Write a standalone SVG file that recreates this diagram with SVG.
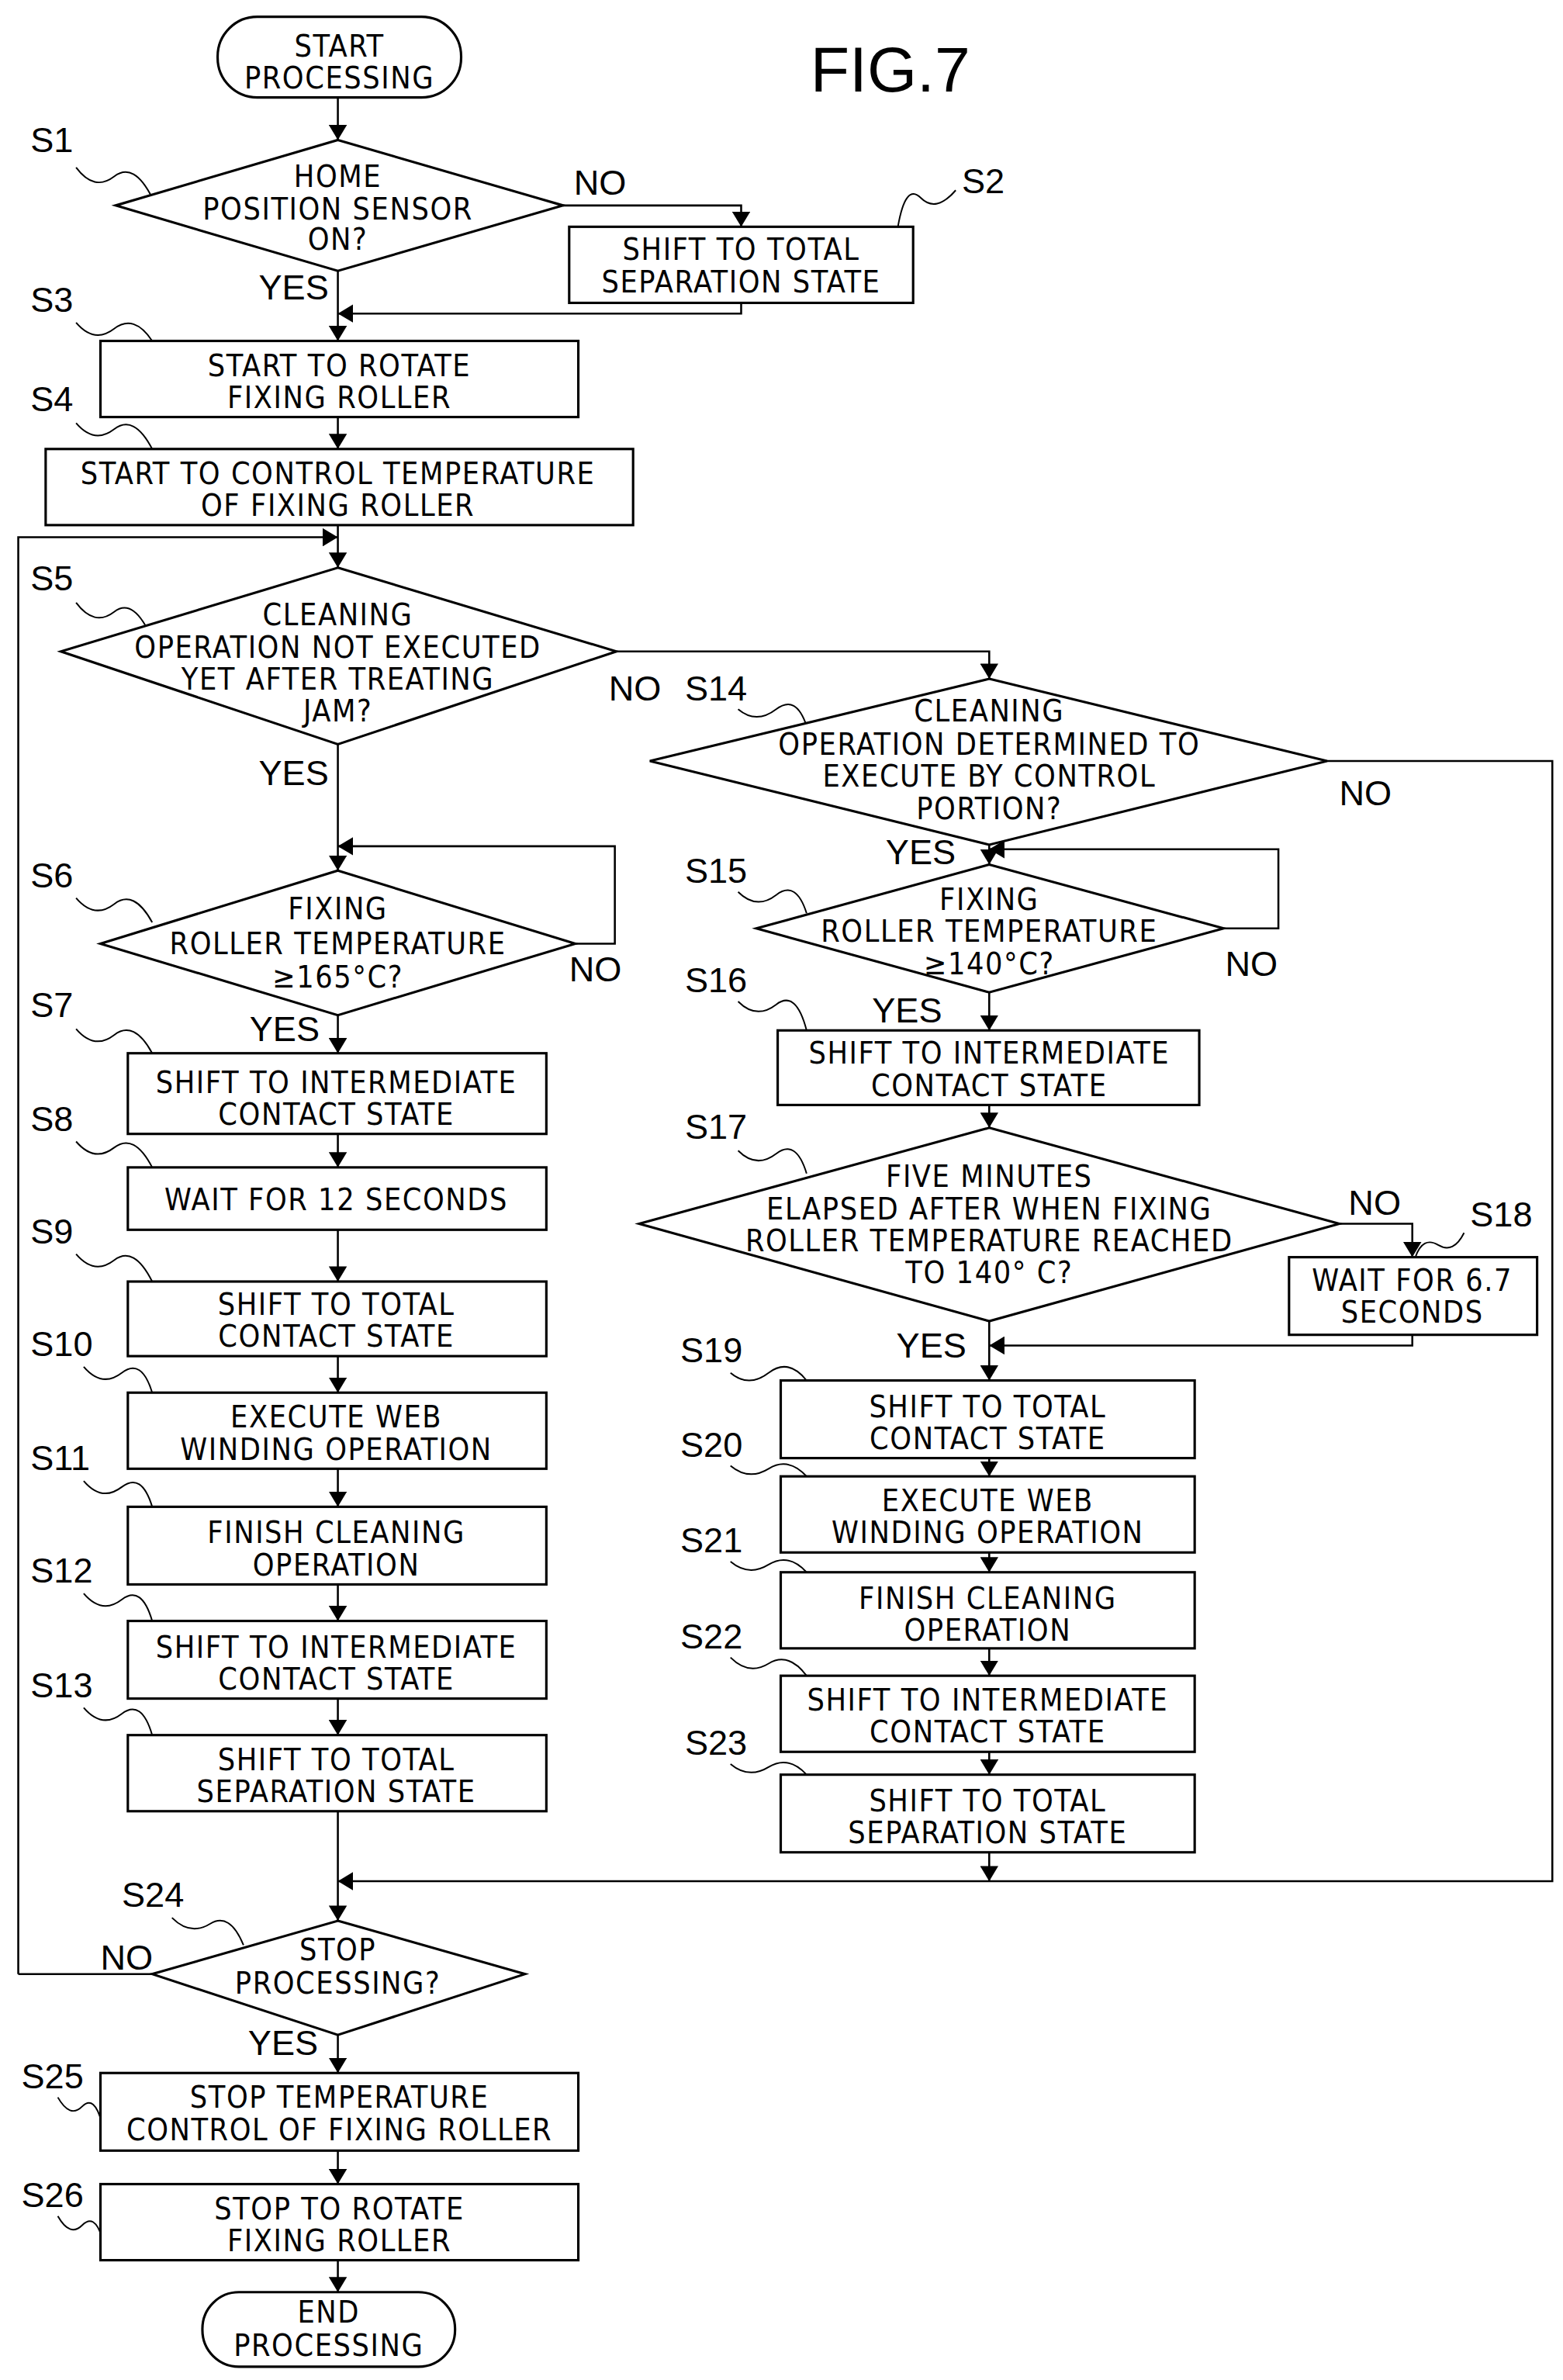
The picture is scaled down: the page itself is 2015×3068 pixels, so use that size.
<svg xmlns="http://www.w3.org/2000/svg" width="2015" height="3068" viewBox="0 0 2015 3068">
<defs>
<marker id="ah" markerWidth="10" markerHeight="12" refX="10" refY="6" orient="auto" markerUnits="userSpaceOnUse"><path d="M0,0 L10,6 L0,12 Z" fill="#000"/></marker>
<style>
.s{fill:#fff;stroke:#000;stroke-width:1.6}
.c{fill:none;stroke:#000;stroke-width:1.3;marker-end:url(#ah)}
.l{fill:none;stroke:#000;stroke-width:1.3}
.q{fill:none;stroke:#000;stroke-width:1}
text{font-family:"DejaVu Sans Condensed","Liberation Sans Narrow","Liberation Sans",sans-serif;font-size:20px;fill:#000}
.t{text-anchor:middle;letter-spacing:0.8px}
.k{font-family:"Liberation Sans",sans-serif;font-size:23px}
.f{font-family:"Liberation Sans",sans-serif;font-size:42px;text-anchor:middle}
</style>
</defs>
<rect width="2015" height="3068" fill="#fff"/>
<g transform="scale(1.962)">
<text class="f" x="585" y="60">FIG.7</text>
<g id="connectors">
<path class="c" d="M222,64 V92"/>
<path class="c" d="M370,135 H487 V149"/>
<path class="c" d="M487,199 V206 H222"/>
<path class="c" d="M222,178 V224"/>
<path class="c" d="M222,274 V295"/>
<path class="c" d="M222,345 V373"/>
<path class="c" d="M12,1297 V353 H222"/>
<path class="c" d="M405,428 H650 V446"/>
<path class="c" d="M650,555 V568"/>
<path class="c" d="M872,500 H1020 V1236 H222"/>
<path class="c" d="M804,610 H840 V558 H650"/>
<path class="c" d="M650,650 V677"/>
<path class="c" d="M650,726 V741"/>
<path class="c" d="M880,804 H928 V826"/>
<path class="c" d="M928,877 V884 H650"/>
<path class="c" d="M650,868 V907"/>
<path class="c" d="M650,958 V970"/>
<path class="c" d="M650,1020 V1033"/>
<path class="c" d="M650,1083 V1101"/>
<path class="c" d="M650,1151 V1166"/>
<path class="c" d="M650,1217 V1236"/>
<path class="c" d="M222,489 V572"/>
<path class="c" d="M378,620 H404 V556 H222"/>
<path class="c" d="M222,667 V692"/>
<path class="c" d="M222,745 V767"/>
<path class="c" d="M222,808 V842"/>
<path class="c" d="M222,891 V915"/>
<path class="c" d="M222,965 V990"/>
<path class="c" d="M222,1041 V1065"/>
<path class="c" d="M222,1116 V1140"/>
<path class="c" d="M222,1190 V1262"/>
<path class="l" d="M100,1297 H12"/>
<path class="c" d="M222,1337 V1362"/>
<path class="c" d="M222,1413 V1435"/>
<path class="c" d="M222,1485 V1506"/>
</g>
<g id="labels">
<text class="k" x="377" y="128">NO</text>
<text class="k" x="170" y="197">YES</text>
<text class="k" x="400" y="460">NO</text>
<text class="k" x="170" y="516">YES</text>
<text class="k" x="880" y="529">NO</text>
<text class="k" x="582" y="568">YES</text>
<text class="k" x="374" y="645">NO</text>
<text class="k" x="164" y="684">YES</text>
<text class="k" x="805" y="641">NO</text>
<text class="k" x="573" y="672">YES</text>
<text class="k" x="886" y="798">NO</text>
<text class="k" x="589" y="892">YES</text>
<text class="k" x="66" y="1294">NO</text>
<text class="k" x="163" y="1350">YES</text>
</g>
<g id="steps">
<text class="k" x="20" y="100">S1</text><path class="q" d="M50,110 Q62,126 75,116 T100,130"/>
<text class="k" x="632" y="127">S2</text><path class="q" d="M628,125 Q615,140 605,130 T590,149"/>
<text class="k" x="20" y="205">S3</text><path class="q" d="M50,212 Q62,226 75,216 T100,224"/>
<text class="k" x="20" y="270">S4</text><path class="q" d="M50,278 Q62,292 75,282 T100,295"/>
<text class="k" x="20" y="388">S5</text><path class="q" d="M50,396 Q62,412 75,402 T100,420"/>
<text class="k" x="450" y="460">S14</text><path class="q" d="M485,466 Q497,476 510,466 T530,477"/>
<text class="k" x="20" y="583">S6</text><path class="q" d="M50,590 Q62,604 75,594 T100,606"/>
<text class="k" x="450" y="580">S15</text><path class="q" d="M485,586 Q497,598 510,588 T530,600"/>
<text class="k" x="20" y="668">S7</text><path class="q" d="M50,676 Q62,690 75,680 T100,692"/>
<text class="k" x="450" y="652">S16</text><path class="q" d="M485,658 Q497,670 510,660 T530,677"/>
<text class="k" x="20" y="743">S8</text><path class="q" d="M50,750 Q62,764 75,754 T100,767"/>
<text class="k" x="450" y="748">S17</text><path class="q" d="M485,756 Q497,768 510,758 T530,771"/>
<text class="k" x="20" y="817">S9</text><path class="q" d="M50,824 Q62,838 75,828 T100,842"/>
<text class="k" x="966" y="806">S18</text><path class="q" d="M962,810 Q955,824 945,818 T930,826"/>
<text class="k" x="20" y="891">S10</text><path class="q" d="M55,898 Q67,912 80,902 T100,915"/>
<text class="k" x="447" y="895">S19</text><path class="q" d="M480,902 Q492,912 505,902 T530,907"/>
<text class="k" x="20" y="966">S11</text><path class="q" d="M55,973 Q67,987 80,977 T100,990"/>
<text class="k" x="447" y="957">S20</text><path class="q" d="M480,963 Q492,973 505,965 T530,970"/>
<text class="k" x="20" y="1040">S12</text><path class="q" d="M55,1047 Q67,1061 80,1051 T100,1065"/>
<text class="k" x="447" y="1020">S21</text><path class="q" d="M480,1026 Q492,1036 505,1028 T530,1033"/>
<text class="k" x="20" y="1115">S13</text><path class="q" d="M55,1122 Q67,1136 80,1126 T100,1140"/>
<text class="k" x="447" y="1083">S22</text><path class="q" d="M480,1089 Q492,1101 505,1093 T530,1101"/>
<text class="k" x="450" y="1153">S23</text><path class="q" d="M480,1159 Q492,1169 505,1161 T530,1166"/>
<text class="k" x="80" y="1253">S24</text><path class="q" d="M113,1260 Q125,1272 138,1264 T160,1278"/>
<text class="k" x="14" y="1372">S25</text><path class="q" d="M38,1378 Q46,1392 54,1384 T67,1395"/>
<text class="k" x="14" y="1450">S26</text><path class="q" d="M38,1456 Q46,1470 54,1462 T67,1470"/>
</g>
<g id="start"><rect class="s" x="143" y="11" width="160" height="53" rx="26"/><text class="t" x="223" y="37">START</text><text class="t" x="223" y="58">PROCESSING</text></g>
<g id="S1n"><path class="s" d="M222,92 L370,135 L222,178 L76,135 Z"/><text class="t" x="222" y="123">HOME</text><text class="t" x="222" y="144">POSITION SENSOR</text><text class="t" x="222" y="164">ON?</text></g>
<g id="S2n"><rect class="s" x="374" y="149" width="226" height="50"/><text class="t" x="487" y="171">SHIFT TO TOTAL</text><text class="t" x="487" y="192">SEPARATION STATE</text></g>
<g id="S3n"><rect class="s" x="66" y="224" width="314" height="50"/><text class="t" x="223" y="247">START TO ROTATE</text><text class="t" x="223" y="268">FIXING ROLLER</text></g>
<g id="S4n"><rect class="s" x="30" y="295" width="386" height="50"/><text class="t" x="222" y="318">START TO CONTROL TEMPERATURE</text><text class="t" x="222" y="339">OF FIXING ROLLER</text></g>
<g id="S5n"><path class="s" d="M222,373 L405,428 L222,489 L40,428 Z"/><text class="t" x="222" y="411">CLEANING</text><text class="t" x="222" y="432">OPERATION NOT EXECUTED</text><text class="t" x="222" y="453">YET AFTER TREATING</text><text class="t" x="222" y="474">JAM?</text></g>
<g id="S6n"><path class="s" d="M222,572 L378,620 L222,667 L66,620 Z"/><text class="t" x="222" y="604">FIXING</text><text class="t" x="222" y="627">ROLLER TEMPERATURE</text><text class="t" x="222" y="649">≥165°C?</text></g>
<g id="S7n"><rect class="s" x="84" y="692" width="275" height="53"/><text class="t" x="221" y="718">SHIFT TO INTERMEDIATE</text><text class="t" x="221" y="739">CONTACT STATE</text></g>
<g id="S8n"><rect class="s" x="84" y="767" width="275" height="41"/><text class="t" x="221" y="795">WAIT FOR 12 SECONDS</text></g>
<g id="S9n"><rect class="s" x="84" y="842" width="275" height="49"/><text class="t" x="221" y="864">SHIFT TO TOTAL</text><text class="t" x="221" y="885">CONTACT STATE</text></g>
<g id="S10n"><rect class="s" x="84" y="915" width="275" height="50"/><text class="t" x="221" y="938">EXECUTE WEB</text><text class="t" x="221" y="959">WINDING OPERATION</text></g>
<g id="S11n"><rect class="s" x="84" y="990" width="275" height="51"/><text class="t" x="221" y="1014">FINISH CLEANING</text><text class="t" x="221" y="1035">OPERATION</text></g>
<g id="S12n"><rect class="s" x="84" y="1065" width="275" height="51"/><text class="t" x="221" y="1089">SHIFT TO INTERMEDIATE</text><text class="t" x="221" y="1110">CONTACT STATE</text></g>
<g id="S13n"><rect class="s" x="84" y="1140" width="275" height="50"/><text class="t" x="221" y="1163">SHIFT TO TOTAL</text><text class="t" x="221" y="1184">SEPARATION STATE</text></g>
<g id="S14n"><path class="s" d="M650,446 L872,500 L650,555 L427,500 Z"/><text class="t" x="650" y="474">CLEANING</text><text class="t" x="650" y="496">OPERATION DETERMINED TO</text><text class="t" x="650" y="517">EXECUTE BY CONTROL</text><text class="t" x="650" y="538">PORTION?</text></g>
<g id="S15n"><path class="s" d="M650,568 L804,610 L650,652 L497,610 Z"/><text class="t" x="650" y="598">FIXING</text><text class="t" x="650" y="619">ROLLER TEMPERATURE</text><text class="t" x="650" y="640">≥140°C?</text></g>
<g id="S16n"><rect class="s" x="511" y="677" width="277" height="49"/><text class="t" x="650" y="699">SHIFT TO INTERMEDIATE</text><text class="t" x="650" y="720">CONTACT STATE</text></g>
<g id="S17n"><path class="s" d="M650,741 L880,804 L650,868 L420,804 Z"/><text class="t" x="650" y="780">FIVE MINUTES</text><text class="t" x="650" y="801">ELAPSED AFTER WHEN FIXING</text><text class="t" x="650" y="822">ROLLER TEMPERATURE REACHED</text><text class="t" x="650" y="843">TO 140° C?</text></g>
<g id="S18n"><rect class="s" x="847" y="826" width="163" height="51"/><text class="t" x="928" y="848">WAIT FOR 6.7</text><text class="t" x="928" y="869">SECONDS</text></g>
<g id="S19n"><rect class="s" x="513" y="907" width="272" height="51"/><text class="t" x="649" y="931">SHIFT TO TOTAL</text><text class="t" x="649" y="952">CONTACT STATE</text></g>
<g id="S20n"><rect class="s" x="513" y="970" width="272" height="50"/><text class="t" x="649" y="993">EXECUTE WEB</text><text class="t" x="649" y="1014">WINDING OPERATION</text></g>
<g id="S21n"><rect class="s" x="513" y="1033" width="272" height="50"/><text class="t" x="649" y="1057">FINISH CLEANING</text><text class="t" x="649" y="1078">OPERATION</text></g>
<g id="S22n"><rect class="s" x="513" y="1101" width="272" height="50"/><text class="t" x="649" y="1124">SHIFT TO INTERMEDIATE</text><text class="t" x="649" y="1145">CONTACT STATE</text></g>
<g id="S23n"><rect class="s" x="513" y="1166" width="272" height="51"/><text class="t" x="649" y="1190">SHIFT TO TOTAL</text><text class="t" x="649" y="1211">SEPARATION STATE</text></g>
<g id="S24n"><path class="s" d="M222,1262 L345,1297 L222,1337 L100,1297 Z"/><text class="t" x="222" y="1288">STOP</text><text class="t" x="222" y="1310">PROCESSING?</text></g>
<g id="S25n"><rect class="s" x="66" y="1362" width="314" height="51"/><text class="t" x="223" y="1385">STOP TEMPERATURE</text><text class="t" x="223" y="1406">CONTROL OF FIXING ROLLER</text></g>
<g id="S26n"><rect class="s" x="66" y="1435" width="314" height="50"/><text class="t" x="223" y="1458">STOP TO ROTATE</text><text class="t" x="223" y="1479">FIXING ROLLER</text></g>
<g id="end"><rect class="s" x="133" y="1506" width="166" height="49" rx="24"/><text class="t" x="216" y="1526">END</text><text class="t" x="216" y="1548">PROCESSING</text></g>
</g>
</svg>
